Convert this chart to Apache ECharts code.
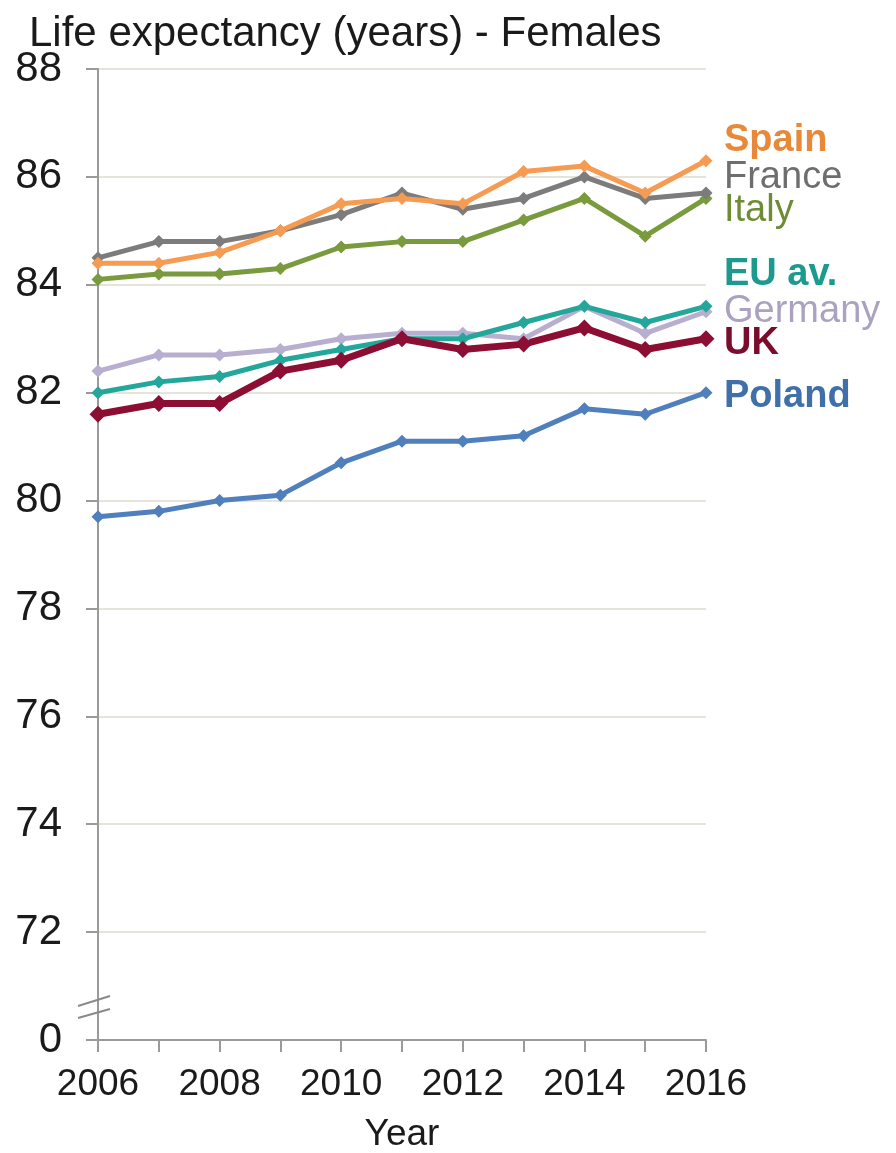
<!DOCTYPE html>
<html><head><meta charset="utf-8">
<script src="https://cdn.jsdelivr.net/npm/echarts@6/dist/echarts.min.js"></script>
<style>html,body{margin:0;padding:0;background:#fff}#c{width:896px;height:1153px}</style>
</head><body><div id="c"></div>
<script>
var years = ['2006','2007','2008','2009','2010','2011','2012','2013','2014','2015','2016'];
var spain   = [84.4,84.4,84.6,85.0,85.5,85.6,85.5,86.1,86.2,85.7,86.3];
var france  = [84.5,84.8,84.8,85.0,85.3,85.7,85.4,85.6,86.0,85.6,85.7];
var italy   = [84.1,84.2,84.2,84.3,84.7,84.8,84.8,85.2,85.6,84.9,85.6];
var euAv    = [82.0,82.2,82.3,82.6,82.8,83.0,83.0,83.3,83.6,83.3,83.6];
var germany = [82.4,82.7,82.7,82.8,83.0,83.1,83.1,83.0,83.6,83.1,83.5];
var uk      = [81.6,81.8,81.8,82.4,82.6,83.0,82.8,82.9,83.2,82.8,83.0];
var poland  = [79.7,79.8,80.0,80.1,80.7,81.1,81.1,81.2,81.7,81.6,82.0];

var FONT = '"Liberation Sans", Arial, sans-serif';
function ser(name, data, color, width, size) {
  return {
    name: name, type: 'line', data: data,
    symbol: 'diamond', symbolSize: size,
    lineStyle: { color: color, width: width },
    itemStyle: { color: color },
    z: 3
  };
}

var chart = echarts.init(document.getElementById('c'), null, { renderer: 'canvas' });
var labels = [
  { text: 'Spain',   y: 141, color: '#e8893a', bold: true },
  { text: 'France',  y: 178, color: '#6e6e6e', bold: false },
  { text: 'Italy',   y: 211, color: '#6e8c35', bold: false },
  { text: 'EU av.',  y: 275, color: '#1c9a8e', bold: true },
  { text: 'Germany', y: 312, color: '#aaa2c0', bold: false },
  { text: 'UK',      y: 344, color: '#7a0c2c', bold: true },
  { text: 'Poland',  y: 397, color: '#3f70aa', bold: true }
];

chart.setOption({
  animation: false,
  backgroundColor: '#fff',
  title: {
    text: 'Life expectancy (years) - Females',
    left: 24, top: 8,
    textStyle: { fontFamily: FONT, fontSize: 42, fontWeight: 'normal', color: '#1a1a1a' }
  },
  grid: { left: 98, right: 190, top: 69, bottom: 113, containLabel: false, outerBoundsMode: 'none' },
  xAxis: {
    type: 'category', data: years, boundaryGap: false,
    name: 'Year', nameLocation: 'middle', nameGap: 76,
    nameTextStyle: { fontFamily: FONT, fontSize: 37, color: '#1a1a1a' },
    axisLine: { lineStyle: { color: '#9a9a9a', width: 2 } },
    axisTick: { show: true, interval: 0, length: 12, lineStyle: { color: '#9a9a9a', width: 2 } },
    axisLabel: { interval: 1, fontFamily: FONT, fontSize: 37, color: '#1a1a1a', margin: 26 },
    splitLine: { show: false }
  },
  yAxis: {
    type: 'value', min: 70, max: 88, interval: 2,
    axisLine: { show: true, lineStyle: { color: '#9a9a9a', width: 2 } },
    axisTick: { show: true, length: 12, lineStyle: { color: '#9a9a9a', width: 2 } },
    axisLabel: {
      fontFamily: FONT, fontSize: 42, color: '#1a1a1a', margin: 36,
      formatter: function (v) { return v === 70 ? '0' : String(v); }
    },
    splitLine: { show: true, lineStyle: { color: '#e5e3da', width: 2 } }
  },
  series: [
    ser('Poland', poland, '#4f7fbd', 5, 13),
    ser('Germany', germany, '#b8afd0', 5, 13),
    ser('EU av.', euAv, '#22a79a', 5, 13),
    ser('UK', uk, '#8c0e33', 7, 17),
    ser('Italy', italy, '#7a9a3e', 5, 13),
    ser('France', france, '#7c7c7c', 5, 13),
    ser('Spain', spain, '#f59b52', 5, 13)
  ]
});

var p = chart.convertToPixel({ xAxisIndex: 0, yAxisIndex: 0 }, [0, 71]);
var ax = p[0], ay = p[1];
var g = labels.map(function (l) {
  return {
    type: 'text', x: 724, y: l.y, z: 10,
    style: {
      text: l.text, fill: l.color, verticalAlign: 'middle', align: 'left',
      font: (l.bold ? 'bold ' : '') + '38px ' + FONT
    }
  };
});
g.push({ type: 'line', z: 10, shape: { x1: ax - 20, y1: ay + 20, x2: ax + 12, y2: ay + 10 }, style: { stroke: '#8a8a8a', lineWidth: 2 } });
g.push({ type: 'line', z: 10, shape: { x1: ax - 20, y1: ay + 32, x2: ax + 12, y2: ay + 23 }, style: { stroke: '#8a8a8a', lineWidth: 2 } });
chart.setOption({ graphic: g });
</script>
</body></html>
